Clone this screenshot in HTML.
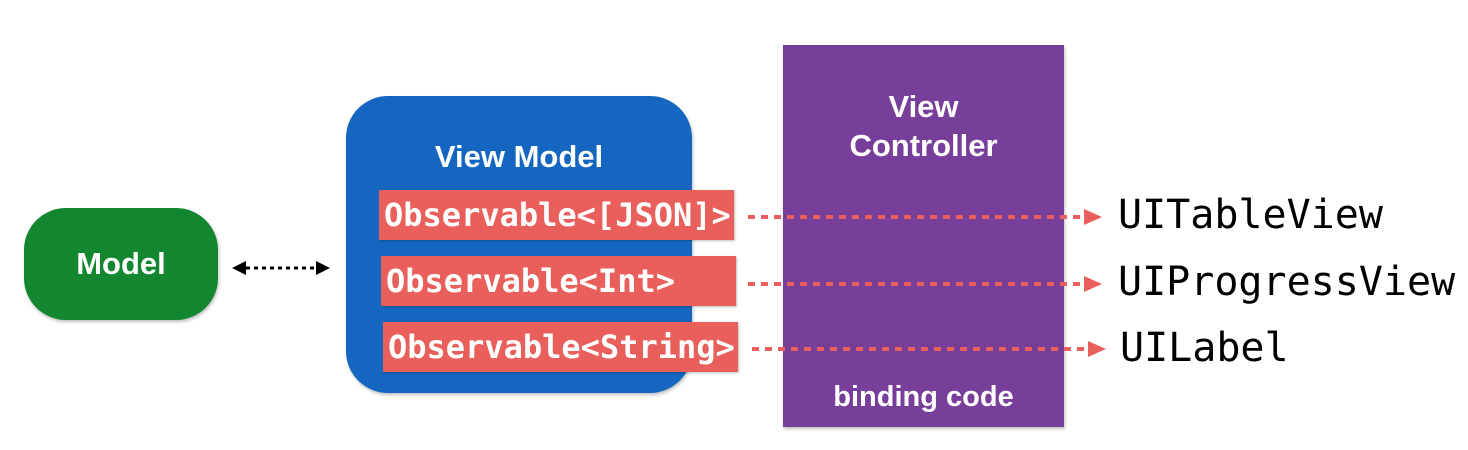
<!DOCTYPE html>
<html><head><style>
body{margin:0;width:1468px;height:450px;background:#fff;position:relative;overflow:hidden;font-family:"Liberation Sans",Arial,sans-serif}
.a{position:absolute}
.model{left:24px;top:208px;width:194px;height:112px;background:#138630;border-radius:42px;color:#fff;font-weight:bold;font-size:31px;display:flex;align-items:center;justify-content:center;box-shadow:1px 2px 3px rgba(0,0,0,.25)}
.vm{left:346px;top:96px;width:346px;height:297px;background:#1566C0;border-radius:42px;box-shadow:1px 2px 3px rgba(0,0,0,.25)}
.vc{left:783px;top:45px;width:281px;height:382px;background:#773F99;box-shadow:1px 2px 3px rgba(0,0,0,.25)}
.t{color:#fff;font-weight:bold;text-align:center}
.obs{background:#E95F5C;color:#fff;font-family:"DejaVu Sans Mono","Liberation Mono",monospace;font-weight:bold;font-size:32px;height:50px;line-height:50px;width:355px;padding-left:5px;box-sizing:border-box;box-shadow:1px 1px 2px rgba(0,0,0,.25)}
.ui{font-family:"DejaVu Sans Mono","Liberation Mono",monospace;font-size:40px;color:#000}
</style></head><body>
<div class="a model">Model</div>
<div class="a vm"></div>
<div class="a t" style="left:346px;top:139px;width:346px;font-size:31px">View Model</div>
<div class="a vc"></div>
<div class="a t" style="left:783px;top:87px;width:281px;font-size:31px;line-height:39px">View<br>Controller</div>
<div class="a t" style="left:783px;top:381px;width:281px;font-size:29px">binding code</div>
<div class="a obs" style="left:379px;top:190px">Observable&lt;[JSON]&gt;</div>
<div class="a obs" style="left:381px;top:256px">Observable&lt;Int&gt;</div>
<div class="a obs" style="left:383px;top:322px">Observable&lt;String&gt;</div>
<div class="a ui" style="left:1118px;top:192px">UITableView</div>
<div class="a ui" style="left:1118px;top:259px">UIProgressView</div>
<div class="a ui" style="left:1120px;top:325px">UILabel</div>
<svg class="a" style="left:0;top:0" width="1468" height="450">
<g stroke="#E95F5C" stroke-width="4" stroke-dasharray="7 6">
<line x1="748" y1="217" x2="1086" y2="217"/>
<line x1="748" y1="284" x2="1086" y2="284"/>
<line x1="752" y1="349" x2="1090" y2="349"/>
</g>
<g fill="#E95F5C">
<polygon points="1084,209 1102,217 1084,225"/>
<polygon points="1084,276 1102,284 1084,292"/>
<polygon points="1088,341 1106,349 1088,357"/>
</g>
<line x1="246" y1="268" x2="316" y2="268" stroke="#000" stroke-width="3" stroke-dasharray="4 4"/>
<polygon points="232,268 246,261 246,275" fill="#000"/>
<polygon points="330,268 316,261 316,275" fill="#000"/>
</svg>
</body></html>
